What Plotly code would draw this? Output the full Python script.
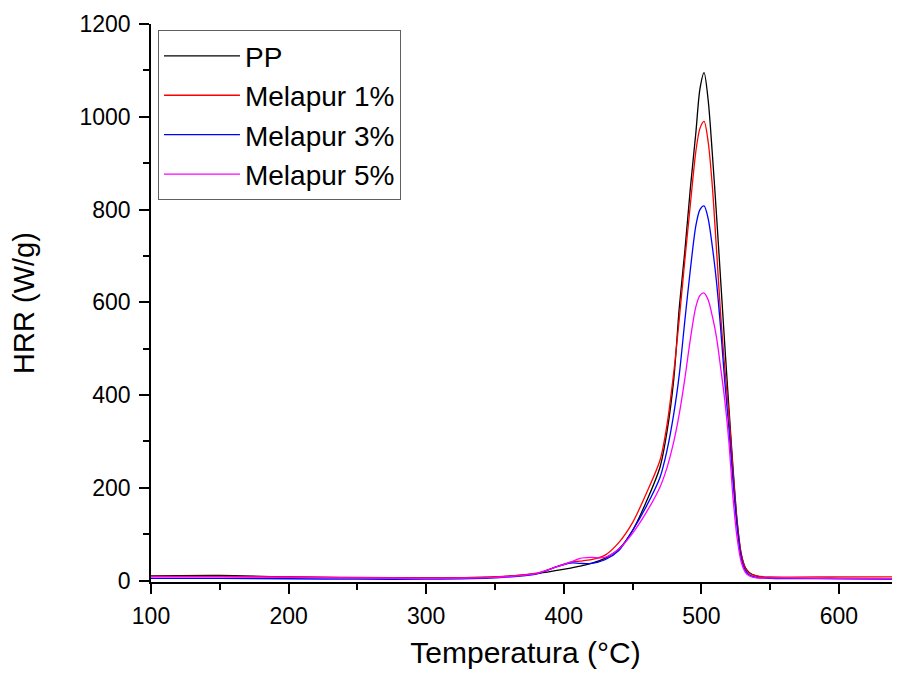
import plotly.graph_objects as go

# Temperature grid (°C) shared by all curves
temperature = [100, 150, 200, 250, 300, 350, 380, 395, 405, 412, 420, 430, 440,
               450, 460, 470, 475, 480, 484, 488, 492, 496, 499, 502, 505, 508,
               511, 514, 517, 520, 523, 526, 529, 532, 535, 540, 550, 600, 645]

# HRR (W/g)
hrr_pp = [10, 11, 8, 6, 6, 8, 15, 22, 27, 31, 37, 48, 68,
          108, 170, 245, 320, 435, 590, 710, 845, 965, 1060, 1095, 1035, 920,
          790, 650, 510, 375, 245, 130, 58, 28, 17, 10, 6, 5, 4]
hrr_m1 = [9, 9, 8, 7, 6, 8, 16, 30, 40, 42, 45, 55, 82,
          125, 188, 260, 335, 450, 565, 690, 810, 925, 975, 990, 945, 850,
          715, 575, 460, 360, 235, 125, 55, 27, 16, 10, 8, 8, 8]
hrr_m3 = [5, 5, 4, 3, 3, 6, 14, 30, 38, 37, 37, 45, 65,
          108, 160, 223, 280, 360, 445, 560, 670, 765, 800, 808, 780, 720,
          645, 545, 430, 330, 215, 115, 48, 22, 12, 7, 5, 4, 3]
hrr_m5 = [8, 8, 7, 6, 5, 7, 15, 30, 40, 48, 50, 50, 68,
          102, 147, 202, 243, 300, 360, 435, 520, 590, 615, 620, 605, 570,
          525, 460, 390, 300, 180, 92, 40, 18, 10, 6, 6, 5, 4]

series = [
    ("PP", hrr_pp, "#000000"),
    ("Melapur 1%", hrr_m1, "#ff0000"),
    ("Melapur 3%", hrr_m3, "#0000ff"),
    ("Melapur 5%", hrr_m5, "#ff00ff"),
]

FONT = "Arial, Liberation Sans, sans-serif"

fig = go.Figure()
for name, values, color in series:
    fig.add_trace(
        go.Scatter(
            x=temperature,
            y=values,
            mode="lines",
            name=name,
            line={"color": color, "width": 1.3, "shape": "spline", "smoothing": 0.8},
        )
    )

axis_common = dict(
    showline=True,
    linecolor="black",
    linewidth=1.5,
    ticks="outside",
    ticklen=10,
    tickwidth=1.5,
    tickcolor="black",
    showgrid=False,
    zeroline=False,
    mirror=False,
    tickfont={"family": FONT, "size": 23, "color": "black"},
)
minor_ticks = {"ticks": "outside", "ticklen": 6, "tickwidth": 1.5, "tickcolor": "black"}

fig.update_xaxes(
    **axis_common,
    range=[100, 644.4],
    tickvals=[100, 200, 300, 400, 500, 600],
    minor={"dtick": 50, **minor_ticks},
    ticklabelstandoff=3,
    title={"text": "Temperatura (°C)", "font": {"family": FONT, "size": 30, "color": "black"}, "standoff": 14},
)
fig.update_yaxes(
    **axis_common,
    range=[-3, 1200],
    tickvals=[0, 200, 400, 600, 800, 1000, 1200],
    minor={"dtick": 100, **minor_ticks},
    ticklabelstandoff=4,
    title={"text": "HRR (W/g)", "font": {"family": FONT, "size": 29, "color": "black"}, "standoff": 37},
)

# page body adds an 8 px offset, so the figure is sized to end at the window edge
fig.update_layout(
    width=892,
    height=667,
    margin={"l": 143, "r": 0, "t": 16, "b": 93},
    plot_bgcolor="white",
    paper_bgcolor="white",
    legend={
        "x": 0.0093,
        "y": 0.989,
        "xanchor": "left",
        "yanchor": "top",
        "bordercolor": "#606060",
        "borderwidth": 1,
        "bgcolor": "white",
        "font": {"family": FONT, "size": 28, "color": "black"},
        "itemwidth": 76,
        "tracegroupgap": 0,
    },
)

fig.write_html("out.html")
